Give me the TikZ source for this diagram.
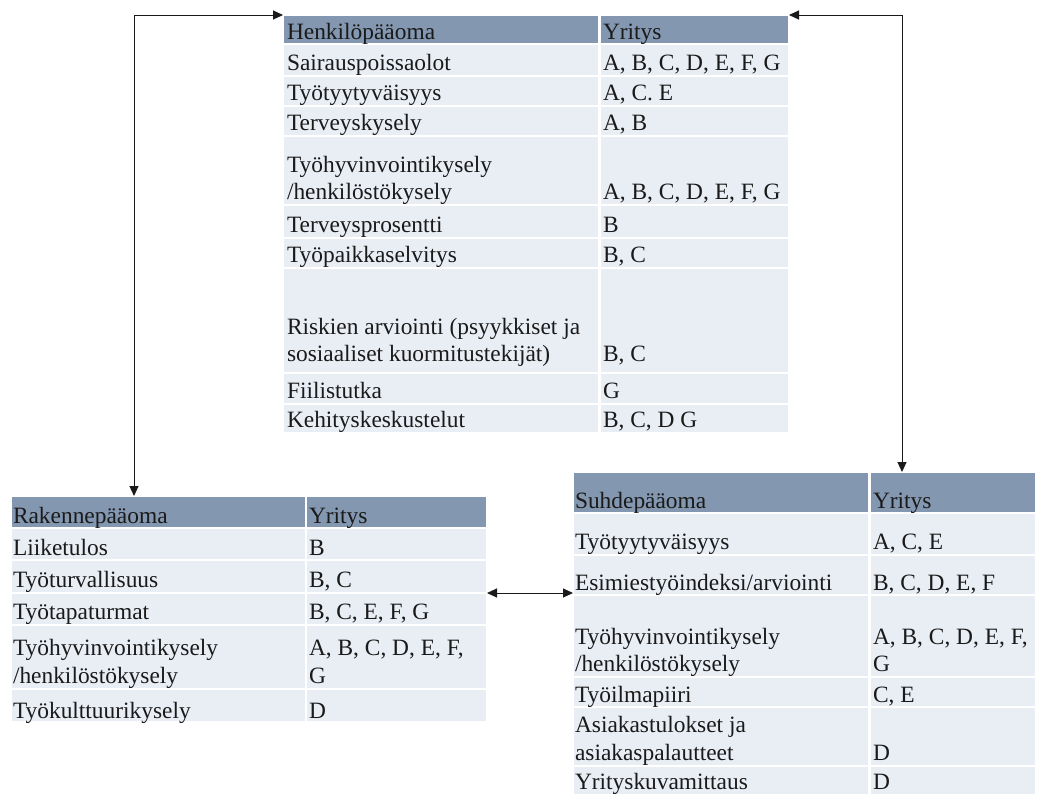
\documentclass[tikz,border=0pt]{standalone}
\usepackage{fontspec}
\setmainfont{Liberation Serif}
\usetikzlibrary{arrows.meta}

\definecolor{hdr}{HTML}{8497B0}
\definecolor{rowfill}{HTML}{E9EDF4}
\definecolor{ink}{HTML}{1A1A1A}
\newcommand\tabfont{\fontsize{23.4}{28}\selectfont}

% one table cell: name, x1, y1, x2, y2, style
\newcommand\cellat[6]{%
  \node[#6, minimum width={(#4)-(#2)}, minimum height={(#5)-(#3)}]
    (#1) at ({((#2)+(#4))/2},{((#3)+(#5))/2}) {};}
% one table row of two cells: prefix, xL, xSplit, xR, y1, y2, style
\newcommand\trow[7]{%
  \cellat{#1a}{#2}{#5}{#3}{#6}{#7}%
  \cellat{#1b}{#3}{#5}{#4}{#6}{#7}}

\begin{document}
\begin{tikzpicture}[x=1pt, y=-1pt,
  cell/.style={rectangle, draw=white, line width=2.5pt, inner sep=0pt, outer sep=0pt},
  hcell/.style={cell, fill=hdr},
  dcell/.style={cell, fill=rowfill},
  txt/.style={anchor=base west, inner sep=0pt, outer sep=0pt, font=\tabfont, text=ink},
  link/.style={draw=ink, line width=1pt,
    {Triangle[length=10pt,width=9pt]}-{Triangle[length=10pt,width=9pt]}}]

\useasboundingbox[fill=white] (0,0) rectangle (1043,796);

% ---------- Henkilöpääoma ----------
\trow{hH}{283}{599.5}{789}{15}{44}{hcell}
\trow{h1}{283}{599.5}{789}{44}{76}{dcell}
\trow{h2}{283}{599.5}{789}{76}{106}{dcell}
\trow{h3}{283}{599.5}{789}{106}{136}{dcell}
\trow{h4}{283}{599.5}{789}{136}{205}{dcell}
\trow{h5}{283}{599.5}{789}{205}{238}{dcell}
\trow{h6}{283}{599.5}{789}{238}{268}{dcell}
\trow{h7}{283}{599.5}{789}{268}{373}{dcell}
\trow{h8}{283}{599.5}{789}{373}{404}{dcell}
\trow{h9}{283}{599.5}{789}{404}{433}{dcell}

\node[txt] (thH1) at (287,39) {Henkilöpääoma};
\node[txt] (thH2) at (603,39) {Yritys};
\node[txt] (th11) at (287,70) {Sairauspoissaolot};
\node[txt] (th12) at (603,70) {A, B, C, D, E, F, G};
\node[txt] (th21) at (287,100) {Työtyytyväisyys};
\node[txt] (th22) at (603,100) {A, C. E};
\node[txt] (th31) at (287,130) {Terveyskysely};
\node[txt] (th32) at (603,130) {A, B};
\node[txt] (th41) at (287,172.5) {Työhyvinvointikysely};
\node[txt] (th42) at (287,199) {/henkilöstökysely};
\node[txt] (th43) at (603,199) {A, B, C, D, E, F, G};
\node[txt] (th51) at (287,232) {Terveysprosentti};
\node[txt] (th52) at (603,232) {B};
\node[txt] (th61) at (287,262) {Työpaikkaselvitys};
\node[txt] (th62) at (603,262) {B, C};
\node[txt] (th71) at (287,334.5) {Riskien arviointi (psyykkiset ja};
\node[txt] (th72) at (287,361.5) {sosiaaliset kuormitustekijät)};
\node[txt] (th73) at (603,361.5) {B, C};
\node[txt] (th81) at (287,398) {Fiilistutka};
\node[txt] (th82) at (603,398) {G};
\node[txt] (th91) at (287,427.5) {Kehityskeskustelut};
\node[txt] (th92) at (603,427.5) {B, C, D G};

% ---------- Rakennepääoma ----------
\trow{rH}{11}{306}{487}{496}{528}{hcell}
\trow{r1}{11}{306}{487}{528}{560}{dcell}
\trow{r2}{11}{306}{487}{560}{593}{dcell}
\trow{r3}{11}{306}{487}{593}{625}{dcell}
\trow{r4}{11}{306}{487}{625}{689}{dcell}
\trow{r5}{11}{306}{487}{689}{722}{dcell}

\node[txt] (trH1) at (13,523) {Rakennepääoma};
\node[txt] (trH2) at (309,523) {Yritys};
\node[txt] (tr11) at (13,555) {Liiketulos};
\node[txt] (tr12) at (309,555) {B};
\node[txt] (tr21) at (13,587) {Työturvallisuus};
\node[txt] (tr22) at (309,587) {B, C};
\node[txt] (tr31) at (13,619) {Työtapaturmat};
\node[txt] (tr32) at (309,619) {B, C, E, F, G};
\node[txt] (tr41) at (13,655) {Työhyvinvointikysely};
\node[txt] (tr42) at (13,683) {/henkilöstökysely};
\node[txt] (tr43) at (309,655) {A, B, C, D, E, F,};
\node[txt] (tr44) at (309,683) {G};
\node[txt] (tr51) at (13,718) {Työkulttuurikysely};
\node[txt] (tr52) at (309,718) {D};

% ---------- Suhdepääoma ----------
\trow{sH}{573}{869.5}{1036}{472}{513}{hcell}
\trow{s1}{573}{869.5}{1036}{513}{555}{dcell}
\trow{s2}{573}{869.5}{1036}{555}{595}{dcell}
\trow{s3}{573}{869.5}{1036}{595}{677}{dcell}
\trow{s4}{573}{869.5}{1036}{677}{707}{dcell}
\trow{s5}{573}{869.5}{1036}{707}{766}{dcell}
\trow{s6}{573}{869.5}{1036}{766}{795}{dcell}

\node[txt] (tsH1) at (575,508) {Suhdepääoma};
\node[txt] (tsH2) at (873,508) {Yritys};
\node[txt] (ts11) at (575,549) {Työtyytyväisyys};
\node[txt] (ts12) at (873,549) {A, C, E};
\node[txt] (ts21) at (575,590) {Esimiestyöindeksi/arviointi};
\node[txt] (ts22) at (873,590) {B, C, D, E, F};
\node[txt] (ts31) at (575,644) {Työhyvinvointikysely};
\node[txt] (ts32) at (575,671) {/henkilöstökysely};
\node[txt] (ts33) at (873,644) {A, B, C, D, E, F,};
\node[txt] (ts34) at (873,671) {G};
\node[txt] (ts41) at (575,702) {Työilmapiiri};
\node[txt] (ts42) at (873,702) {C, E};
\node[txt] (ts51) at (575,732) {Asiakastulokset ja};
\node[txt] (ts52) at (575,760) {asiakaspalautteet};
\node[txt] (ts53) at (873,760) {D};
\node[txt] (ts61) at (575,789) {Yrityskuvamittaus};
\node[txt] (ts62) at (873,789) {D};

% ---------- connectors ----------
\coordinate (cornerL) at (134,15);
\coordinate (cornerR) at (902,15);
\draw[link] (hHa.north west) -- (cornerL) -- (cornerL |- rHa.north);
\draw[link] (hHb.north east) -- (cornerR) -- (cornerR |- sHb.north);
\draw[link] (r2b.south east) -- (r2b.south east -| s2a.west);
\end{tikzpicture}
\end{document}
